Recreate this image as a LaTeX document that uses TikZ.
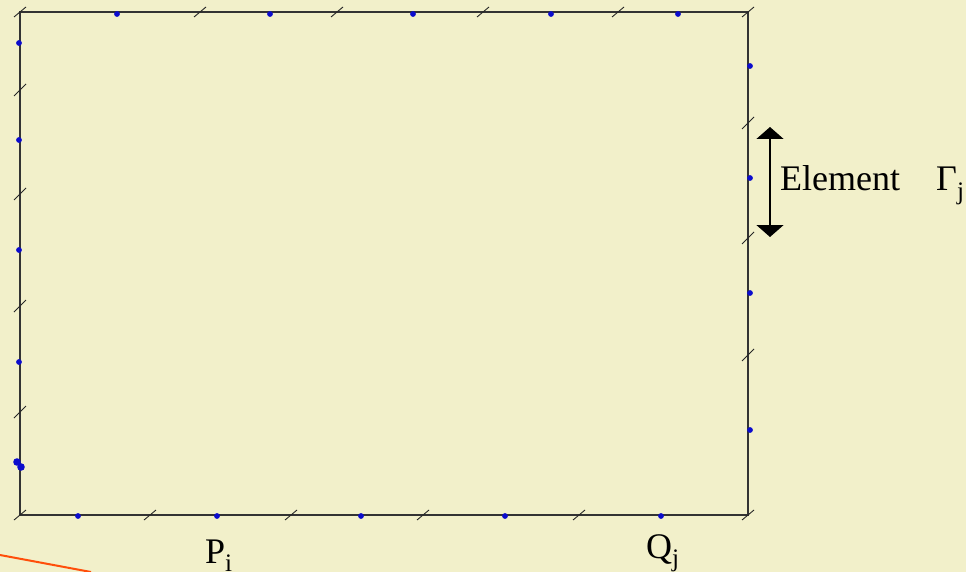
\documentclass[tikz,border=0pt]{standalone}
\usepackage{fontspec}
\setmainfont{Liberation Serif}
\usetikzlibrary{arrows.meta}
\definecolor{paper}{RGB}{242,240,202}
\definecolor{nodeblue}{RGB}{12,12,205}
\definecolor{cutorange}{RGB}{255,78,10}
\tikzset{
  edge line/.style={draw=black!80, line width=1.4pt},
  tick mark/.style={draw=black!85, line width=0.9pt},
  node dot/.style={fill=nodeblue},
  label text/.style={font=\fontsize{36}{40}\selectfont, inner sep=0pt, anchor=base west},
}

\begin{document}
\begin{tikzpicture}[x=1pt, y=-1pt, >={Triangle[width=27pt, length=12pt]}]
    \useasboundingbox (0,0) rectangle (966,572);
    \fill[paper] (0,0) rectangle (966,572);

    % Boundary of the domain
    \coordinate (nw) at (20,12);
    \coordinate (se) at (748,515);
    \draw[edge line] (nw) rectangle (se);

    % Element ends on the horizontal sides
    \foreach \x in {20,200,337,483,618,748}
      \draw[tick mark] (\x-6,17) -- (\x+6,7);
    \foreach \x in {20,150,291,423,579,748}
      \draw[tick mark] (\x-6,520) -- (\x+6,510);

    % Element ends on the vertical sides
    \foreach \y in {90,194,306,412}
      \draw[tick mark] (14,\y+6) -- (26,\y-6);
    \foreach \y in {123,238,355}
      \draw[tick mark] (742,\y+6) -- (754,\y-6);

    % Nodes in the middle of each element
    \foreach \x in {117,270,413,551,678}
      \fill[node dot] (\x,14) circle (2.9pt);
    \foreach \x in {78,217,361,505,661}
      \fill[node dot] (\x,516) circle (2.9pt);
    \foreach \y in {43,140,250,362}
      \fill[node dot] (19,\y) circle (2.9pt);
    \fill[node dot] (17,462) circle (3.8pt);
    \fill[node dot] (21,467) circle (3.8pt);
    \foreach \y in {66,178,293,430}
      \fill[node dot] (750,\y) circle (2.9pt);

    % Element length with labels
    \coordinate (eltop) at (770,127);
    \coordinate (elbot) at (770,237);
    \draw[line width=1.6pt, <->] (eltop) -- (elbot);
    \node[label text] (element) at (780,190) {Element};
    \node[label text] (gamma) at (936,191) {Γ\textsubscript{j}};

    % Point labels below the boundary
    \node[label text] (pi) at (205,563) {P\textsubscript{i}};
    \node[label text] (qj) at (646,558) {Q\textsubscript{j}};

    % Line leaving the picture
    \coordinate (cutstart) at (0,555);
    \coordinate (cutend) at (91,572);
    \draw[cutorange, line width=2pt] (cutstart) -- (cutend);
  \end{tikzpicture}
\end{document}
